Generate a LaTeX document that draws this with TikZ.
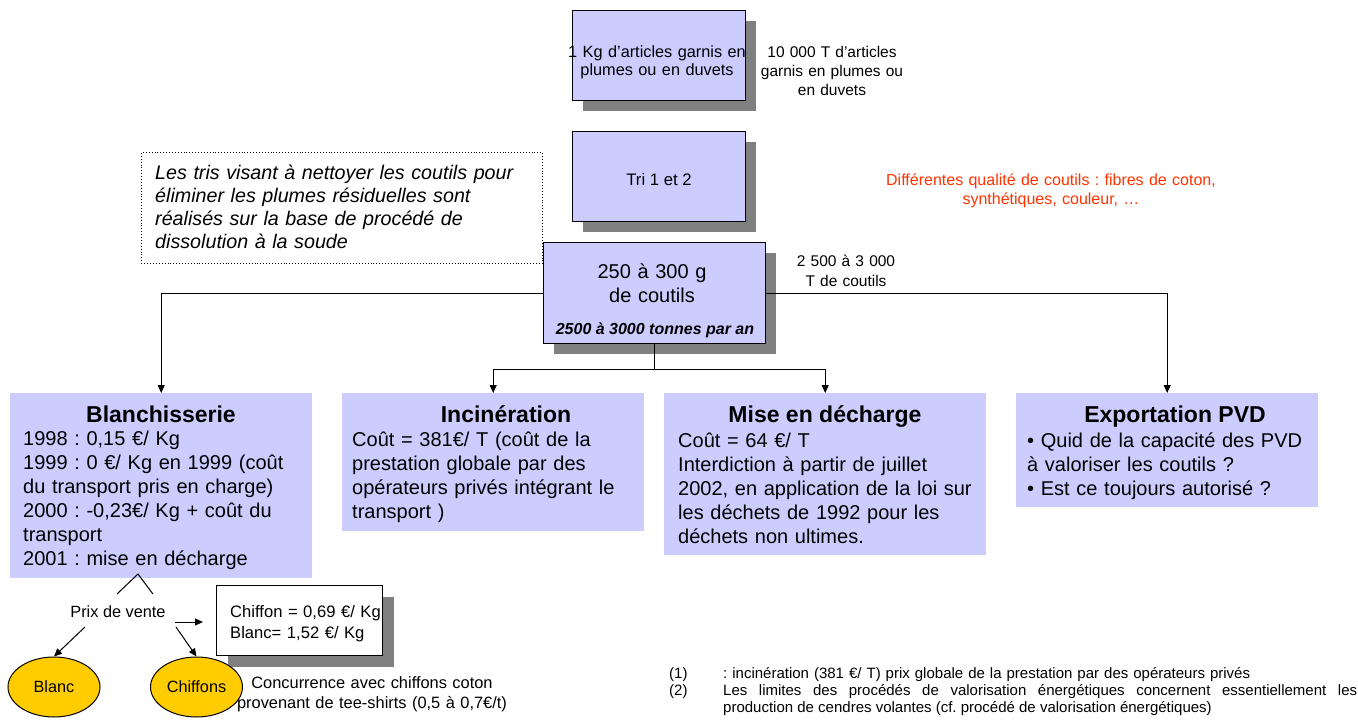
\documentclass[tikz,border=0pt]{standalone}
\usepackage{fontspec}
\setmainfont{Liberation Sans}
\usetikzlibrary{arrows.meta,shapes.geometric,shadows}
\definecolor{lav}{HTML}{CCCCFF}
\definecolor{shade}{HTML}{808080}
\definecolor{gold}{HTML}{FFCC00}
\definecolor{redtxt}{HTML}{FF3300}
\newcommand\fsz[2]{\fontsize{#1}{#2}\selectfont}

\tikzset{
  flowbox/.style={draw=black, line width=1.3pt, fill=lav, inner sep=0pt, anchor=north west,
    drop shadow={shadow xshift=10pt, shadow yshift=-10pt, fill=shade, opacity=1, draw=none}},
  infobox/.style={fill=lav, inner sep=0pt, anchor=north west},
  conn/.style={line width=1pt},
  arr/.style={conn, -{Triangle[length=8pt,width=7pt]}},
  plain/.style={inner sep=0pt, anchor=base},
  ctext/.style={inner sep=0pt, anchor=base, align=center, text width=#1},
  ltext/.style={inner sep=0pt, anchor=base west, align=left, text width=#1},
  boxtitle/.style={inner sep=0pt, anchor=base, font=\fsz{23}{24}\bfseries},
  boxbody/.style={ltext=#1, font=\fsz{20}{24}},
  pill/.style={ellipse, draw=black, line width=1pt, fill=gold, inner sep=0pt,
    minimum width=92pt, minimum height=60pt, font=\fsz{16.3}{18}}
}

\begin{document}
\frenchspacing
\begin{tikzpicture}[x=1pt,y=-1pt]
\useasboundingbox[fill=white] (0,0) rectangle (1358,720);

% --- upper chain of process boxes ---
\node[flowbox, minimum width=173pt, minimum height=90pt] (articles) at (572,10) {};
\node[ctext=200pt, font=\fsz{16.3}{18}] (articlestxt) at (657,57) {1 Kg d’articles garnis en\\plumes ou en duvets};
\node[ctext=170pt, font=\fsz{15.5}{19}] (tonnage) at (832,57) {10 000 T d’articles\\garnis en plumes ou\\en duvets};

\node[flowbox, minimum width=173pt, minimum height=90pt] (tri) at (572,131) {};
\node[plain, font=\fsz{16.7}{20}] (tritxt) at (659,185) {Tri 1 et 2};

\node[ctext=400pt, font=\fsz{16}{19}, text=redtxt] (qualite) at (1051,185)
  {Différentes qualité de coutils : fibres de coton,\\synthétiques, couleur, …};

% --- dotted remark box ---
\node[draw=black, dotted, line width=0.9pt, inner sep=0pt, anchor=north west,
      minimum width=401pt, minimum height=111pt] (remarque) at (141,152) {};
\node[ltext=385pt, font=\fsz{19.7}{23.3}\itshape] (remarquetxt) at (155,179)
  {Les tris visant à nettoyer les coutils pour\\éliminer les plumes résiduelles sont\\réalisés sur la base de procédé de\\dissolution à la soude};

% --- ticking box and its connectors ---
\node[flowbox, minimum width=222pt, minimum height=101pt] (coutils) at (543,242) {};
\node[ctext=210pt, font=\fsz{20}{24}] (coutilstxt) at (652,278) {250 à 300 g\\de coutils};
\node[plain, font=\fsz{16}{18}\bfseries\itshape] (tonnes) at (655,334) {2500 à 3000 tonnes par an};
\node[ctext=150pt, font=\fsz{15.5}{20}] (coutilsqt) at (846,266) {2 500 à 3 000\\T de coutils};

% --- destination boxes ---
\node[infobox, minimum width=302pt, minimum height=185pt] (blanch) at (10,393) {};
\node[infobox, minimum width=302pt, minimum height=138pt] (incin) at (342,393) {};
\node[infobox, minimum width=322pt, minimum height=162pt] (decharge) at (664,393) {};
\node[infobox, minimum width=302pt, minimum height=114pt] (export) at (1016,393) {};

\draw[arr] (coutils.west) -| (blanch.north);
\draw[arr] (coutils.east) -| (export.north);
\draw[conn] (coutils.south) -- ++(0,25) coordinate (split);
\draw[arr] (split) -| (incin.north);
\draw[arr] (split) -| (decharge.north);

\node[boxtitle] (blanchtitle) at (161,422) {Blanchisserie};
\node[boxbody=285pt] (blanchbody) at (23,445)
  {1998 : 0,15 €/ Kg\\1999 : 0 €/ Kg en 1999 (coût\\du transport pris en charge)\\2000 : -0,23€/ Kg + coût du\\transport\\2001 : mise en décharge};

\node[boxtitle] (incintitle) at (506,422) {Incinération};
\node[boxbody=285pt] (incinbody) at (352,446)
  {Coût = 381€/ T (coût de la\\prestation globale par des\\opérateurs privés intégrant le\\transport )};

\node[boxtitle] (dechargetitle) at (825,422) {Mise en décharge};
\node[boxbody=305pt] (dechargebody) at (678,447)
  {Coût = 64 €/ T\\Interdiction à partir de juillet\\2002, en application de la loi sur\\les déchets de 1992 pour les\\déchets non ultimes.};

\node[boxtitle] (exporttitle) at (1175,422) {Exportation PVD};
\node[boxbody=285pt] (exportbody) at (1027,447)
  {• Quid de la capacité des PVD\\à valoriser les coutils ?\\• Est ce toujours autorisé ?};

% --- resale branch under the laundry ---
\node[plain, font=\fsz{16.3}{18}] (prix) at (118,617) {Prix de vente};
\coordinate (capL) at (117,594);
\coordinate (capTop) at (138,574);
\coordinate (capR) at (153,594);
\draw[conn] (capL) -- (capTop) -- (capR);

\node[draw=black, line width=1pt, fill=white, inner sep=0pt, anchor=north west,
      minimum width=166pt, minimum height=70pt,
      drop shadow={shadow xshift=11pt, shadow yshift=-11pt, fill=shade, opacity=1, draw=none}] (prices) at (216,585) {};
\node[ltext=170pt, font=\fsz{16.6}{21}] (pricestxt) at (230,617) {Chiffon = 0,69 €/ Kg\\Blanc= 1,52 €/ Kg};

\node[pill] (blanc) at (54,687) {Blanc};
\node[pill] (chiffons) at (196.5,687) {Chiffons};

\coordinate (fromL) at (85,627);
\coordinate (fromR) at (176,627);
\coordinate (fromE) at (175,622);
\coordinate (toE) at (203,622);
\draw[arr] (fromL) -- (blanc.north);
\draw[arr] (fromR) -- (chiffons.north);
\draw[arr] (fromE) -- (toE);

\node[ctext=300pt, font=\fsz{16.4}{20}] (concurrence) at (372,688)
  {Concurrence avec chiffons coton\\provenant de tee-shirts (0,5 à 0,7€/t)};

% --- footnotes ---
\node[inner sep=0pt, anchor=base west, font=\fsz{15}{17}] (n1) at (669,678) {(1)};
\node[inner sep=0pt, anchor=base west, font=\fsz{15}{17}] (n2) at (669,695) {(2)};
\node[ltext=640pt, font=\fsz{15}{17}] (n1txt) at (723,678)
  {: incinération (381 €/ T) prix globale de la prestation par des opérateurs privés};
\node[inner sep=0pt, anchor=base west, align=justify, text width=634pt, font=\fsz{15}{17}] (n2txt) at (723,695)
  {Les limites des procédés de valorisation énergétiques concernent essentiellement les\linebreak production de cendres volantes (cf. procédé de valorisation énergétiques)};
\end{tikzpicture}
\end{document}
